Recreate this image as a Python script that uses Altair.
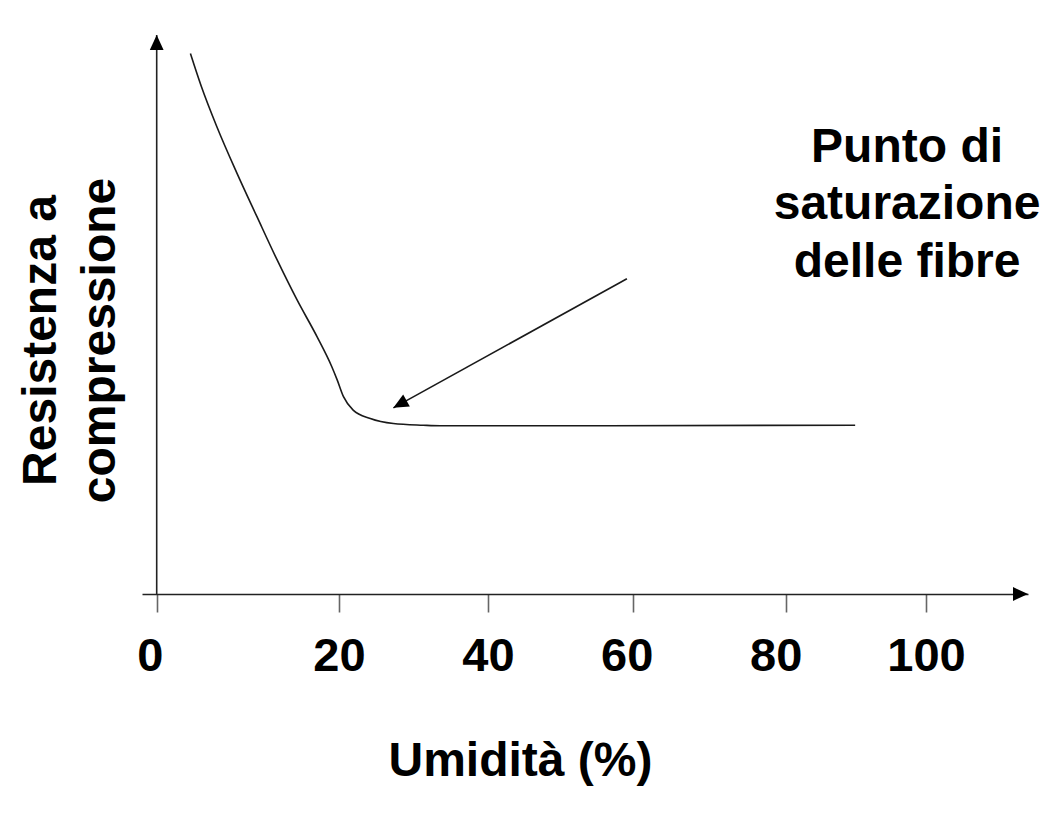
import altair as alt
import pandas as pd

# ---- data ----
umidita = [3.7, 4.9, 6.6, 8.8, 11.0, 13.2, 15.4, 17.6, 19.2, 19.8, 20.6, 21.9,
           24.2, 27.3, 31.3, 33.6, 55.5, 89.9]
resistenza = [96.7, 90.8, 83.6, 75.3, 67.5, 59.8, 52.6, 46.0, 40.7, 38.3, 35.3,
              32.9, 31.4, 30.5, 30.2, 30.1, 30.1, 30.2]

x_ticks = [0, 20, 40, 60, 80, 100]
x_title = "Umidità (%)"
y_title = ["Resistenza a", "compressione"]
note_lines = ["Punto di", "saturazione", "delle fibre"]

arrow_x = [59.2]
arrow_y = [56.4]
arrow_x2 = [27.3]
arrow_y2 = [33.3]
note_x = [97.3]
note_y = [77.3]

# ---- scales (hand-drawn axis: uneven tick spacing) ----
x_domain = [-1.61, 0, 20, 40, 60, 80, 100, 114.54]
x_range = [0, 14.7, 197, 346, 490.7, 643.7, 784, 886]
xs = alt.Scale(domain=x_domain, range=x_range, nice=False, zero=False)
ys = alt.Scale(domain=[0, 100], nice=False, zero=False)

FONT = "Liberation Sans"

x_axis = alt.Axis(
    values=x_ticks, title=x_title, grid=False,
    domainColor="#222222", domainWidth=1.6,
    tickColor="#666666", tickWidth=1.6, tickSize=18,
    labelFont=FONT, labelFontSize=47, labelFontWeight="bold", labelColor="black",
    labelBaseline="alphabetic", labelPadding=58, labelFlush=False,
    labelOffset={"condition": [
        {"test": "datum.value == 0", "value": -7},
        {"test": "datum.value == 60", "value": -6},
        {"test": "datum.value == 80", "value": -10},
    ], "value": 0},
    titleFont=FONT, titleFontSize=48, titleFontWeight="bold", titleColor="black",
    titleX=378, titleY=181, titleAlign="center", titleBaseline="alphabetic",
)
y_axis = alt.Axis(
    title=y_title, domain=False, ticks=False, labels=False, grid=False,
    titleFont=FONT, titleFontSize=48, titleFontWeight="bold", titleColor="black",
    titleAngle=270, titleX=-87, titleY=305, titleAlign="center",
    titleBaseline="alphabetic", titleLineHeight=59,
)

X = alt.X("x:Q", scale=xs, axis=x_axis)
Y = alt.Y("y:Q", scale=ys, axis=y_axis)

curve_df = pd.DataFrame({"x": umidita, "y": resistenza})
curve = alt.Chart(curve_df).mark_line(
    color="#1a1a1a", strokeWidth=1.6, interpolate="monotone"
).encode(x=X, y=Y)

# y axis line (vertical)
yaxis_df = pd.DataFrame({"x": [0], "y": [0], "y2": [100]})
yaxis = alt.Chart(yaxis_df).mark_rule(color="#222222", strokeWidth=1.6).encode(
    x=X, y=Y, y2="y2:Q",
)

# annotation arrow line
arrow_df = pd.DataFrame({"x": arrow_x, "y": arrow_y, "x2": arrow_x2, "y2": arrow_y2})
arrow = alt.Chart(arrow_df).mark_rule(color="#1a1a1a", strokeWidth=1.6).encode(
    x=X, y=Y, x2="x2:Q", y2="y2:Q",
)

# arrow heads: tips at axis ends and at annotation arrow end
head_df = pd.DataFrame({
    "x": [x_domain[-1], 0, arrow_x2[0]],
    "y": [0, 100, arrow_y2[0]],
    "angle": [0, 270, 151],
})
heads = alt.Chart(head_df).mark_point(
    shape="M0,0L-1,-0.46L-1,0.46Z", filled=True, color="black", opacity=1,
    size=900, strokeWidth=0,
).encode(
    x=X, y=Y,
    angle=alt.Angle("angle:Q", scale=None),
)

# annotation text
note_df = pd.DataFrame({"x": note_x, "y": note_y})
note = alt.Chart(note_df).mark_text(
    text=note_lines, align="center", baseline="alphabetic", font=FONT,
    fontSize=48, fontWeight="bold", color="black", lineHeight=57.5,
).encode(x=X, y=Y)

chart = alt.layer(curve, yaxis, arrow, heads, note).properties(
    width=886, height=559,
    background="white",
    autosize=alt.AutoSizeParams(type="none"),
    padding={"left": 134, "top": 27, "right": 20, "bottom": 220},
).configure_view(stroke=None)

chart.save("out.html", embed_options={"renderer": "svg", "actions": False})
